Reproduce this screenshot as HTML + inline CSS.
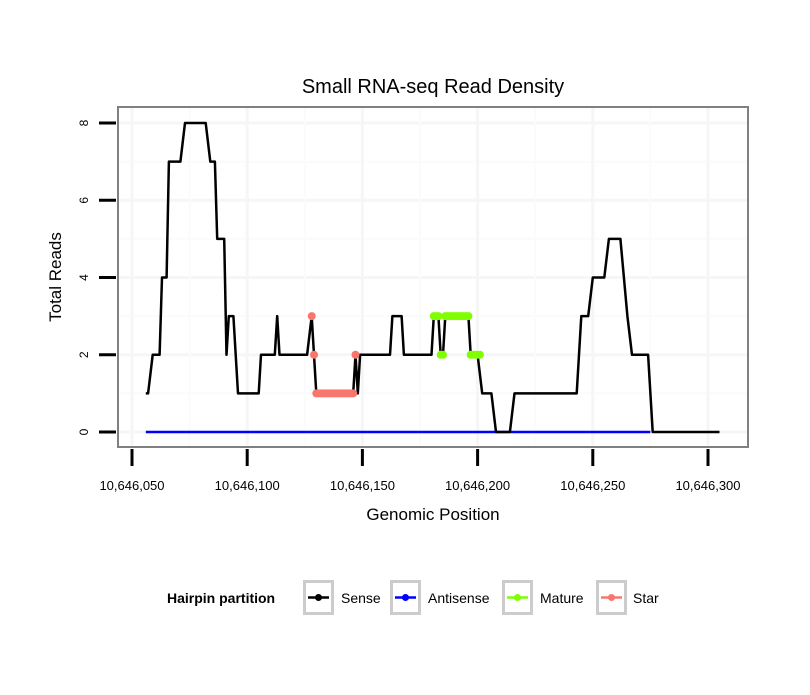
<!DOCTYPE html>
<html><head><meta charset="utf-8"><style>
body{margin:0;background:#fff;}
svg text{font-family:"Liberation Sans",sans-serif;}
</style></head><body>
<svg width="810" height="690" xmlns="http://www.w3.org/2000/svg">
<rect width="810" height="690" fill="#fff"/>
<text x="433" y="93" font-size="20" text-anchor="middle">Small RNA-seq Read Density</text>
<g id="grid"></g>
<g id="series"></g>
<rect x="118" y="107" width="630" height="340" fill="none" stroke="#808080" stroke-width="2"/>
<g id="axes"></g>
<text x="433" y="520" font-size="17" text-anchor="middle">Genomic Position</text>
<text transform="translate(61,277) rotate(-90)" font-size="17" text-anchor="middle">Total Reads</text>
<g>
<text x="167" y="603" font-size="14" font-weight="bold">Hairpin partition</text>
<g id="legend"></g>
</g>
</svg>
<script>
const NS="http://www.w3.org/2000/svg";
const xBase=10646000;
const senseStart=[56,59,63,66,73,84,87,91,92,96,106,113,114,128,129,130,147,148,149,163,168,181,184,186,197,202,208,216,245,250,257,265,267,276];
const senseEnd=  [57,62,65,71,82,86,90,91,94,105,112,113,126,128,129,146,147,148,162,167,180,183,185,196,200,206,214,243,248,255,262,265,274,305];
const senseVal=  [1,2,4,7,8,7,5,2,3,1,2,3,2,3,2,1,2,1,2,3,2,3,2,3,2,1,0,1,3,4,5,3,2,0];
const antiStart=[56];
const antiEnd=[275];
const antiVal=[0];
const matureStart=[181,184,186,197];
const matureEnd=[183,185,196,201];
const matureVal=[3,2,3,2];
const starStart=[128,129,130,147];
const starEnd=[128,129,146,147];
const starVal=[3,2,1,2];
const xTicks=[50,100,150,200,250,300];
const xTickLabels=["10,646,050","10,646,100","10,646,150","10,646,200","10,646,250","10,646,300"];
const yTicks=[0,2,4,6,8];
const yTickLabels=["0","2","4","6","8"];

const xs=p=>132+(p-50)*2.304;
const ys=v=>432-v*38.625;
function mk(tag,attrs,parent){const e=document.createElementNS(NS,tag);for(const k in attrs)e.setAttribute(k,attrs[k]);parent.appendChild(e);return e;}
const grid=document.getElementById('grid'),ser=document.getElementById('series'),axes=document.getElementById('axes'),leg=document.getElementById('legend');
for(let v=-1;v<=9;v++){const y=ys(v);if(y<108||y>446)continue;const l=mk('line',{x1:119,x2:747,y1:y,y2:y,stroke:v%2===0?'#f6f6f6':'#fbfbfb','stroke-width':v%2===0?3:2},grid);

}
for(let p=25;p<=325;p+=25){const x=xs(p);if(x<119||x>747)continue;const l=mk('line',{x1:x,x2:x,y1:108,y2:446,stroke:p%50===0?'#f6f6f6':'#fbfbfb','stroke-width':p%50===0?3:2},grid);

}
function runPts(st,en,va){const pts=[];for(let i=0;i<st.length;i++){pts.push([st[i],va[i]]);if(en[i]!==st[i])pts.push([en[i],va[i]]);}return pts;}
function drawLine(st,en,va,color,w,name){const pts=runPts(st,en,va);const d=pts.map((p,i)=>(i?'L':'M')+xs(p[0]).toFixed(1)+' '+ys(p[1]).toFixed(1)).join(' ');
const e=mk('path',{d:d,fill:'none',stroke:color,'stroke-width':w,'stroke-linejoin':'round'},ser);

}
function drawDots(st,en,va,color,name){for(let i=0;i<st.length;i++){for(let p=st[i];p<=en[i];p++){const c=mk('circle',{cx:xs(p),cy:ys(va[i]),r:4,fill:color},ser);

}}}
drawLine(antiStart,antiEnd,antiVal,'#0000ff',2.5,'antisense-line');
drawLine(senseStart,senseEnd,senseVal,'#000',2.5,'sense-line');
drawDots(starStart,starEnd,starVal,'#f8766d','star-point');
drawDots(matureStart,matureEnd,matureVal,'#7fff00','mature-point');
yTicks.forEach((v,i)=>{const y=ys(v);const t=mk('line',{x1:99,x2:116,y1:y,y2:y,stroke:'#000','stroke-width':3},axes);


const tx=mk('text',{transform:`translate(88,${y}) rotate(-90)`,'font-size':12,'text-anchor':'middle'},axes);tx.textContent=yTickLabels[i];

});
xTicks.forEach((p,i)=>{const x=xs(p);const t=mk('line',{x1:x,x2:x,y1:449,y2:466,stroke:'#000','stroke-width':3},axes);


const tx=mk('text',{x:x,y:490,'font-size':13,'text-anchor':'middle'},axes);tx.textContent=xTickLabels[i];

});
const legItems=[["Sense","#000",303,341],["Antisense","#0000ff",390,428],["Mature","#7fff00",502,540],["Star","#f8766d",596,633]];
legItems.forEach(it=>{const g=mk('g',{},leg);


mk('rect',{x:it[2]+1.5,y:581.5,width:28,height:32,fill:'#fff',stroke:'#cccccc','stroke-width':3},g);
mk('line',{x1:it[2]+5,x2:it[2]+26,y1:597.5,y2:597.5,stroke:it[1],'stroke-width':2.5},g);
mk('circle',{cx:it[2]+15.5,cy:597.5,r:3.5,fill:it[1]},g);
const t=mk('text',{x:it[3],y:603,'font-size':14},g);t.textContent=it[0];});
</script>
</body></html>
